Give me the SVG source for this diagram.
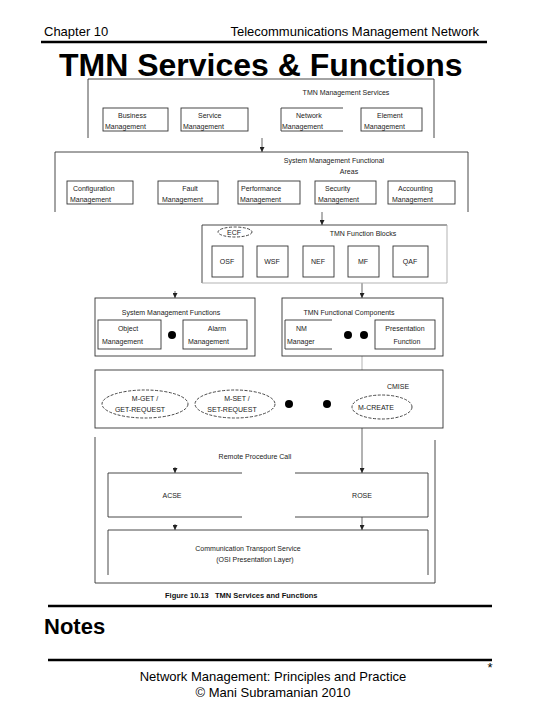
<svg xmlns="http://www.w3.org/2000/svg" width="540" height="720" viewBox="0 0 540 720">
<style>
.hdr{font-family:"Liberation Sans",Arial,sans-serif;font-size:13px;fill:#000}
.title{font-family:"Liberation Sans",Arial,sans-serif;font-size:32px;font-weight:bold;fill:#000}
.lbl{font-family:"Liberation Sans",Arial,sans-serif;font-size:7px;fill:#222}
.c{text-anchor:middle}
.cap{font-family:"Liberation Sans",Arial,sans-serif;font-size:7.5px;font-weight:bold;fill:#111;white-space:pre}
.box{fill:none;stroke:#333;stroke-width:0.9}
.lt{fill:none;stroke:#aaa;stroke-width:0.9}
.ell{fill:none;stroke:#333;stroke-width:0.9;stroke-dasharray:3 1.5}
.rule{stroke:#000;stroke-width:2.5}
.con{fill:none;stroke:#555;stroke-width:0.9}
.dot{fill:#000}
</style>
<defs>
<marker id="ah" viewBox="0 0 6 6" refX="6" refY="3" markerWidth="5" markerHeight="5" orient="auto" markerUnits="userSpaceOnUse">
<path d="M0,0 L6,3 L0,6 Z" fill="#222"/>
</marker>
</defs>

<g id="header">
<text class="hdr" x="44" y="36">Chapter 10</text>
<text class="hdr" x="479" y="36" text-anchor="end">Telecommunications Management Network</text>
<line class="rule" x1="41" y1="42" x2="487" y2="42"/>
<text class="title" x="59" y="76">TMN Services &amp; Functions</text>
</g>

<g id="connectors">
<line class="con" x1="262" y1="138" x2="262" y2="152" marker-end="url(#ah)"/>
<line class="con" x1="322" y1="212" x2="322" y2="225" marker-end="url(#ah)"/>
<line class="con" x1="175" y1="291" x2="175" y2="298" marker-end="url(#ah)"/>
<line class="con" x1="362" y1="283" x2="362" y2="298" marker-end="url(#ah)"/>
<line class="lt" x1="362" y1="356" x2="362" y2="370"/>
<line class="con" x1="362" y1="428" x2="362" y2="473" marker-end="url(#ah)"/>
<line class="con" x1="175" y1="467" x2="175" y2="473" marker-end="url(#ah)"/>
<line class="con" x1="175" y1="524" x2="175" y2="530" marker-end="url(#ah)"/>
<line class="con" x1="362" y1="517" x2="362" y2="530" marker-end="url(#ah)"/>
</g>

<g id="tmn-management-services">
<path class="box" d="M88,138 V79 H434 V138"/>
<text class="lbl c" x="346" y="95">TMN Management Services</text>
<rect class="box" x="103" y="108" width="65" height="23"/>
<text class="lbl" x="118" y="118">Business</text>
<text class="lbl" x="105" y="129">Management</text>
<rect class="box" x="181" y="108" width="67" height="23"/>
<text class="lbl" x="198" y="118">Service</text>
<text class="lbl" x="183" y="129">Management</text>
<path class="box" d="M343,108 H281 V131 H343"/>
<text class="lbl" x="296" y="118">Network</text>
<text class="lbl" x="282" y="129">Management</text>
<rect class="box" x="361" y="108" width="61" height="23"/>
<text class="lbl" x="377" y="118">Element</text>
<text class="lbl" x="364" y="129">Management</text>
</g>

<g id="functional-areas">
<path class="box" d="M55,212 V152 H468 V212"/>
<text class="lbl c" x="334" y="163">System Management Functional</text>
<text class="lbl c" x="349" y="174">Areas</text>
<rect class="box" x="67" y="181" width="66" height="23"/>
<text class="lbl" x="73" y="191">Configuration</text>
<text class="lbl" x="70" y="202">Management</text>
<rect class="box" x="158" y="181" width="60" height="23"/>
<text class="lbl c" x="190" y="191">Fault</text>
<text class="lbl" x="162" y="202">Management</text>
<rect class="box" x="238" y="181" width="62" height="23"/>
<text class="lbl" x="241" y="191">Performance</text>
<text class="lbl" x="240" y="202">Management</text>
<rect class="box" x="315" y="181" width="61" height="23"/>
<text class="lbl" x="325" y="191">Security</text>
<text class="lbl" x="318" y="202">Management</text>
<rect class="box" x="388" y="181" width="67" height="23"/>
<text class="lbl" x="398" y="191">Accounting</text>
<text class="lbl" x="392" y="202">Management</text>
</g>

<g id="function-blocks">
<path class="box" d="M202,283 V225 H447"/>
<path class="lt" d="M447,225 V283 H202"/>
<ellipse class="ell" cx="235" cy="232" rx="17" ry="5"/>
<text class="lbl" x="227" y="235">ECF</text>
<text class="lbl c" x="363" y="236">TMN Function Blocks</text>
<rect class="box" x="212" y="246" width="31" height="31"/>
<text class="lbl c" x="227" y="264">OSF</text>
<rect class="box" x="257" y="246" width="31" height="31"/>
<text class="lbl c" x="272" y="264">WSF</text>
<rect class="box" x="303" y="246" width="31" height="31"/>
<text class="lbl c" x="318" y="264">NEF</text>
<rect class="box" x="348" y="246" width="31" height="31"/>
<text class="lbl c" x="363" y="264">MF</text>
<rect class="box" x="393" y="246" width="35" height="31"/>
<text class="lbl c" x="410" y="264">QAF</text>
</g>

<g id="system-management-functions">
<rect class="box" x="95" y="298" width="160" height="58"/>
<text class="lbl c" x="171" y="315">System Management Functions</text>
<rect class="box" x="98" y="320" width="63" height="29"/>
<text class="lbl c" x="128" y="331">Object</text>
<text class="lbl" x="102" y="344">Management</text>
<circle class="dot" cx="172" cy="335" r="4"/>
<rect class="box" x="183" y="320" width="64" height="29"/>
<text class="lbl c" x="217" y="331">Alarm</text>
<text class="lbl" x="188" y="344">Management</text>
</g>

<g id="tmn-functional-components">
<rect class="box" x="282" y="298" width="161" height="58"/>
<text class="lbl c" x="349" y="315">TMN Functional Components</text>
<path class="box" d="M332,320 H285 V349 H332"/>
<text class="lbl" x="296" y="331">NM</text>
<text class="lbl" x="287" y="344">Manager</text>
<circle class="dot" cx="348" cy="335" r="4"/>
<circle class="dot" cx="364" cy="335" r="4"/>
<rect class="box" x="375" y="320" width="60" height="29"/>
<text class="lbl c" x="405" y="331">Presentation</text>
<text class="lbl c" x="407" y="344">Function</text>
</g>

<g id="cmise">
<rect class="box" x="95" y="370" width="348" height="58"/>
<text class="lbl c" x="398" y="389">CMISE</text>
<ellipse class="ell" cx="145" cy="404" rx="43" ry="14"/>
<text class="lbl c" x="145" y="401">M-GET /</text>
<text class="lbl c" x="140" y="412">GET-REQUEST</text>
<ellipse class="ell" cx="235" cy="404" rx="40" ry="14"/>
<text class="lbl c" x="237" y="401">M-SET /</text>
<text class="lbl c" x="232" y="412">SET-REQUEST</text>
<circle class="dot" cx="289" cy="404" r="4"/>
<circle class="dot" cx="327" cy="404" r="4"/>
<ellipse class="ell" cx="382" cy="407" rx="30" ry="12"/>
<text class="lbl c" x="376" y="410">M-CREATE</text>
</g>

<g id="rpc">
<path class="box" d="M95,437 V583 H435 V440"/>
<text class="lbl c" x="255" y="459">Remote Procedure Call</text>
</g>

<g id="acse">
<path class="box" d="M242,473 H108 V517 H242"/>
<text class="lbl c" x="172" y="498">ACSE</text>
</g>

<g id="rose">
<path class="box" d="M295,473 H428 V517 H295"/>
<text class="lbl c" x="362" y="498">ROSE</text>
</g>

<g id="transport">
<path class="box" d="M108,575 V530 H428 V575"/>
<text class="lbl c" x="248" y="551">Communication Transport Service</text>
<text class="lbl c" x="255" y="562">(OSI Presentation Layer)</text>
</g>

<g id="footer">
<text class="cap" x="165" y="598">Figure 10.13   TMN Services and Functions</text>
<line class="rule" x1="48" y1="606" x2="492" y2="606"/>
<text x="44" y="634" font-family="Liberation Sans, Arial, sans-serif" font-size="22" font-weight="bold">Notes</text>
<line class="rule" x1="48" y1="660" x2="492" y2="660"/>
<text class="hdr" x="490" y="672" text-anchor="middle" font-size="12">*</text>
<text class="hdr" x="273" y="681" text-anchor="middle" font-size="12.5">Network Management: Principles and Practice</text>
<text class="hdr" x="273" y="697" text-anchor="middle" font-size="12.5">© Mani Subramanian 2010</text>
</g>
</svg>
